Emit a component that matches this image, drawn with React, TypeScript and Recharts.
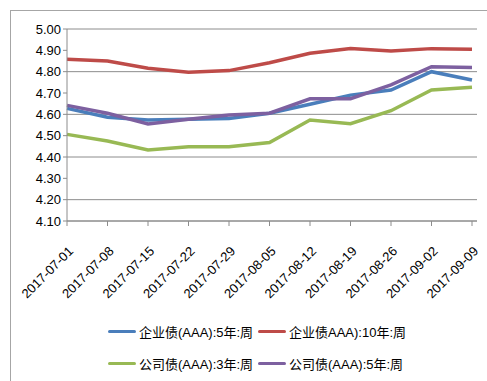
import React from 'react'
import { LineChart, Line, XAxis, YAxis, CartesianGrid } from 'recharts'

const dates = [
  '2017-07-01', '2017-07-08', '2017-07-15', '2017-07-22', '2017-07-29', '2017-08-05',
  '2017-08-12', '2017-08-19', '2017-08-26', '2017-09-02', '2017-09-09',
]
const corp5 = [4.628, 4.586, 4.573, 4.577, 4.581, 4.605, 4.647, 4.69, 4.714, 4.8, 4.761]
const corp10 = [4.858, 4.85, 4.816, 4.797, 4.805, 4.842, 4.886, 4.908, 4.897, 4.908, 4.905]
const comp3 = [4.506, 4.475, 4.433, 4.448, 4.448, 4.468, 4.573, 4.556, 4.617, 4.714, 4.727]
const comp5 = [4.642, 4.605, 4.555, 4.577, 4.597, 4.605, 4.673, 4.673, 4.738, 4.823, 4.82]
const yTicks = [4.1, 4.2, 4.3, 4.4, 4.5, 4.6, 4.7, 4.8, 4.9, 5.0]

const series = [
  { key: 'corp5', name: '企业债(AAA):5年:周', color: '#4A7EBB' },
  { key: 'corp10', name: '企业债AAA):10年:周', color: '#BE4B48' },
  { key: 'comp3', name: '公司债(AAA):3年:周', color: '#98B954' },
  { key: 'comp5', name: '公司债(AAA):5年:周', color: '#7D60A0' },
]

const data = dates.map((d, i) => ({
  date: d,
  corp5: corp5[i],
  corp10: corp10[i],
  comp3: comp3[i],
  comp5: comp5[i],
}))

const font = '"Liberation Sans", "Noto Sans CJK SC", sans-serif'

const DateTick = (props: any) => {
  const { x, y, payload } = props
  const ax = x + 7
  const ay = y + 24
  return (
    <text
      x={ax}
      y={ay}
      transform={`rotate(-45 ${ax} ${ay})`}
      textAnchor="end"
      fontSize={13}
      fontFamily={font}
      fill="#000"
    >
      {payload.value}
    </text>
  )
}

export default function App() {
  const legendPos = [
    { left: 108, top: 322 },
    { left: 258, top: 322 },
    { left: 108, top: 354 },
    { left: 258, top: 354 },
  ]
  return (
    <div style={{ position: 'absolute', left: 0, top: 0, width: 487, height: 381, background: '#fff', overflow: 'hidden' }}>
      <div style={{ position: 'absolute', left: 10, top: 10, width: 500, height: 400, border: '1px solid #a6a6a6' }} />
      <div style={{ position: 'absolute', left: 0, top: 0 }}>
        <LineChart width={487} height={381} data={data} margin={{ top: 29, right: 10, left: 0, bottom: 0 }}>
          <CartesianGrid vertical={false} stroke="#8c8c8c" />
          <XAxis
            dataKey="date"
            interval={0}
            height={160}
            padding={{ left: 0, right: 5 }}
            stroke="#8c8c8c"
            tickSize={5}
            tick={<DateTick />}
          />
          <YAxis
            domain={[4.1, 5.0]}
            ticks={yTicks}
            width={67}
            stroke="#8c8c8c"
            tickSize={4}
            tickFormatter={(v: number) => v.toFixed(2)}
            tick={{ fill: '#000', fontSize: 13, fontFamily: font }}
          />
          {series.map(s => (
            <Line
              key={s.key}
              dataKey={s.key}
              name={s.name}
              stroke={s.color}
              strokeWidth={3.5}
              dot={false}
              isAnimationActive={false}
            />
          ))}
        </LineChart>
      </div>
      {series.map((s, i) => (
        <div
          key={s.key}
          style={{
            position: 'absolute',
            left: legendPos[i].left,
            top: legendPos[i].top,
            display: 'flex',
            alignItems: 'center',
            fontFamily: font,
            fontSize: 13,
            color: '#000',
            whiteSpace: 'nowrap',
          }}
        >
          <span style={{ display: 'inline-block', width: 28, height: 3.5, background: s.color, borderRadius: 2, marginRight: 3 }} />
          <span>{s.name}</span>
        </div>
      ))}
    </div>
  )
}
